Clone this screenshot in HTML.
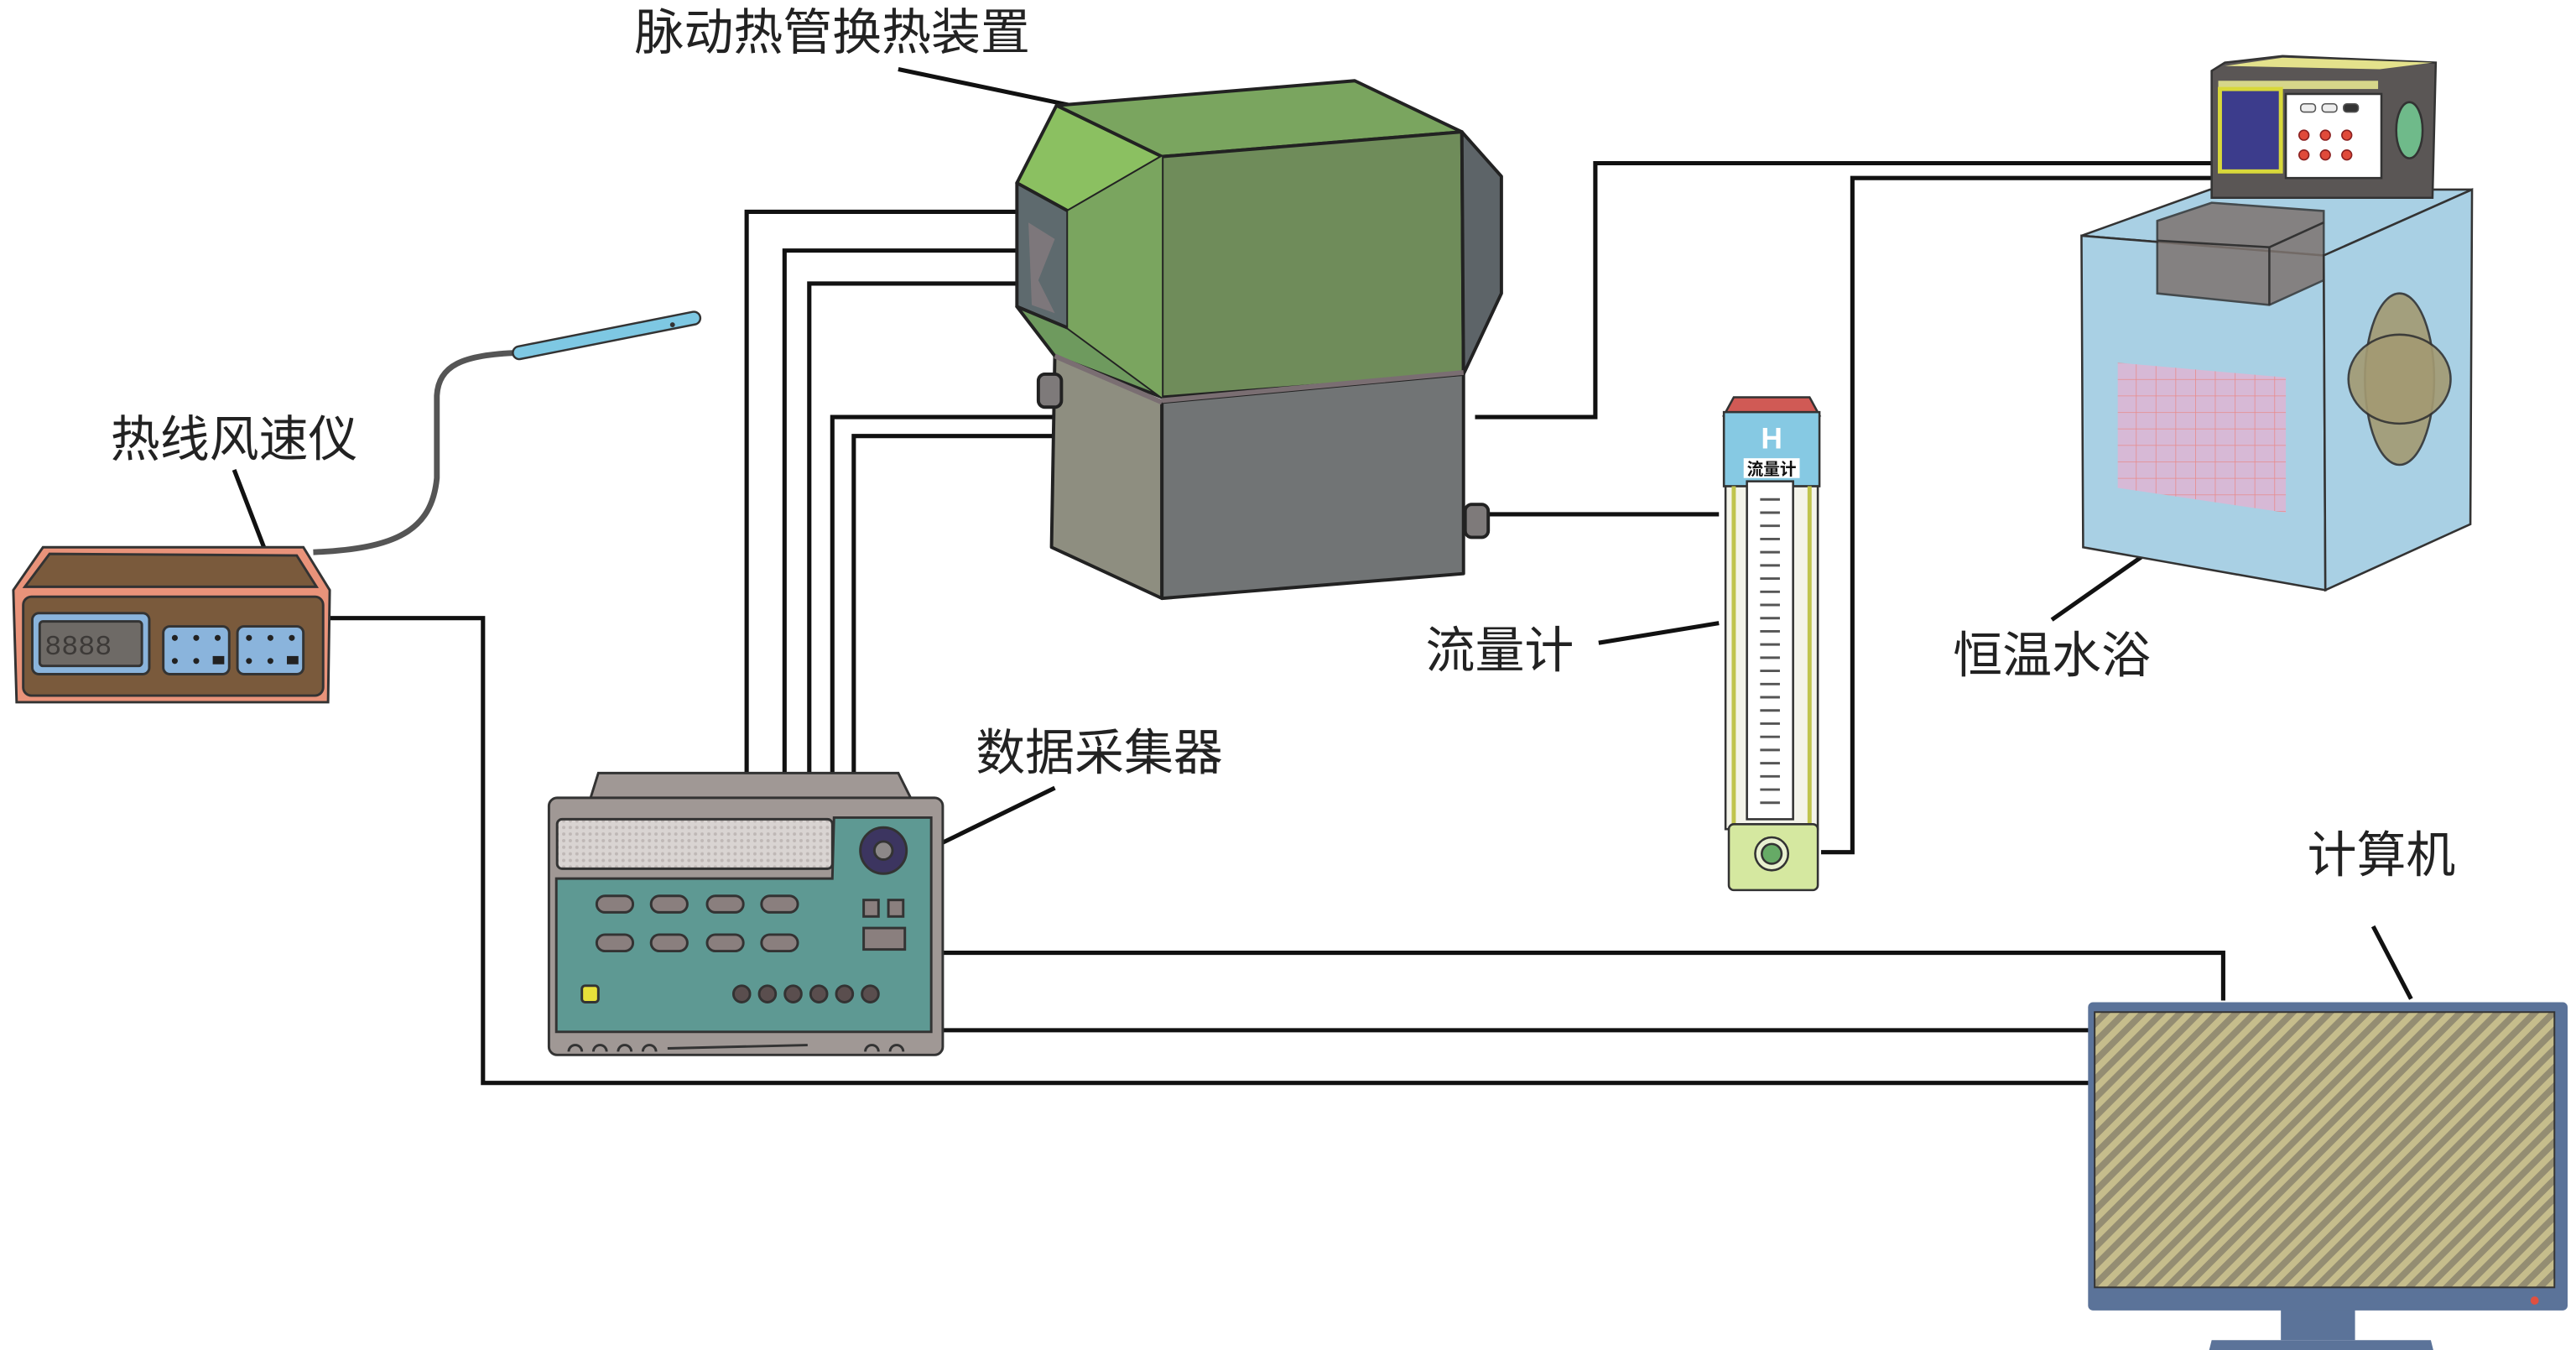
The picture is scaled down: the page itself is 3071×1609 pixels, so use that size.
<!DOCTYPE html>
<html><head><meta charset="utf-8"><style>
html,body{margin:0;padding:0;background:#fff;}
svg{display:block;}
text{font-family:"Liberation Sans","Noto Sans CJK SC",sans-serif;font-size:30px;fill:#222;}
</style></head><body>
<svg width="3071" height="1609" viewBox="0 0 1563 819" xmlns="http://www.w3.org/2000/svg">
<defs>
<pattern id="hatch" width="8" height="8" patternUnits="userSpaceOnUse" patternTransform="rotate(45)">
<rect width="8" height="8" fill="#c6bd8c"/><rect width="4" height="8" fill="#948d72"/>
</pattern>
<pattern id="grid" width="12" height="10" patternUnits="userSpaceOnUse">
<rect width="12" height="10" fill="#d7b9d6"/><path d="M0 0H12M0 0V10" stroke="#e88a8a" stroke-width="0.8"/>
</pattern>
<pattern id="dots" width="4" height="4" patternUnits="userSpaceOnUse">
<rect width="4" height="4" fill="#d9d4d2"/><circle cx="2" cy="2" r="1" fill="#bfb8b6"/>
</pattern>
</defs>

<!-- wires -->
<g fill="none" stroke="#111" stroke-width="2.6">
<polyline points="453,477 453,128.5 648,128.5"/>
<polyline points="476,477 476,152 648,152"/>
<polyline points="491,477 491,172 648,172"/>
<polyline points="505,477 505,253 640,253"/>
<polyline points="518,477 518,264.5 640,264.5"/>
<polyline points="895,253 968,253 968,99 1350,99"/>
<polyline points="1105,517 1124,517 1124,108 1350,108"/>
<polyline points="903,312 1043,312"/>
<polyline points="970,390 1043,378"/>
<polyline points="199,375 293,375 293,657 1272,657"/>
<polyline points="568,578 1349,578 1349,607"/>
<polyline points="568,625 1272,625"/>
<line x1="545" y1="42" x2="650" y2="64"/>
<line x1="142" y1="285" x2="162" y2="337"/>
<line x1="640" y1="478" x2="560" y2="517"/>
<line x1="1245" y1="376" x2="1322" y2="322"/>
<line x1="1440" y1="562" x2="1463" y2="606"/>
</g>

<!-- heat exchanger -->
<g stroke="#222" stroke-width="2" stroke-linejoin="round">
<polygon points="640,216 705,244 705,363 638,332" fill="#8e8e80"/>
<polygon points="705,244 888,227 888,348 705,363" fill="#717475"/>
<polygon points="641,64 822,49 887,80 705,95" fill="#7aa55f"/>
<polygon points="705,95 887,80 888,227 705,241" fill="#6f8c5a"/>
<polygon points="887,80 911,107 911,178 888,227" fill="#5d6468"/>
<polygon points="641,64 705,95 648,128 617,111" fill="#8bc061"/>
<polygon points="617,111 648,128 648,199 617,186" fill="#5e6a6e"/>
<polygon points="617,186 648,199 705,241 640,216" fill="#6e9a5e"/>
<polygon points="648,128 705,95 705,241 648,199" fill="#7aa55f" stroke="none"/>
<line x1="640" y1="216" x2="705" y2="244" stroke="#7a6e72" stroke-width="3"/>
<line x1="705" y1="243" x2="888" y2="226" stroke="#7a6e72" stroke-width="3"/>
<rect x="630" y="227" width="14" height="20" rx="4" fill="#7e7a7a"/>
<rect x="889" y="306" width="14" height="20" rx="4" fill="#7e7a7a"/>
</g>
<path d="M624 135 L640 145 L630 170 L640 190 L626 185 Z" fill="#8a7e80" opacity="0.7"/>

<!-- anemometer -->
<path d="M190,335 C240,333 262,322 265,290 L265,240 C266,222 280,215 315,214" fill="none" stroke="#555" stroke-width="3.5"/>
<path d="M315,214 L421,193" stroke="#333" stroke-width="9" stroke-linecap="round"/>
<path d="M315,214 L421,193" stroke="#7ec8e3" stroke-width="6.5" stroke-linecap="round"/>
<circle cx="408" cy="197" r="1.5" fill="#333"/>
<g stroke="#333" stroke-width="1.5">
<polygon points="26,332 184,332 200,358 199,426 10,426 8,358" fill="#e9937a"/>
<polygon points="30,336 180,337 192,356 15,356" fill="#7a5a3c"/>
<rect x="14" y="362" width="182" height="60" rx="5" fill="#7a5a3c"/>
<rect x="19.5" y="372" width="71" height="37" rx="4" fill="#8ab4dc"/>
<rect x="24" y="377" width="62" height="27" rx="2" fill="#6e6a66"/>
<rect x="99" y="380" width="40" height="29" rx="4" fill="#8ab4dc"/>
<rect x="144" y="380" width="40" height="29" rx="4" fill="#8ab4dc"/>
</g>
<text x="27" y="397" style="font-size:17px;fill:#3d3a38;font-family:'Liberation Mono',monospace">8888</text>
<g fill="#222">
<circle cx="106" cy="387" r="1.8"/><circle cx="119" cy="387" r="1.8"/><circle cx="132" cy="387" r="1.8"/>
<circle cx="106" cy="401" r="1.8"/><circle cx="119" cy="401" r="1.8"/><rect x="129" y="398" width="7" height="5"/>
<circle cx="151" cy="387" r="1.8"/><circle cx="164" cy="387" r="1.8"/><circle cx="177" cy="387" r="1.8"/>
<circle cx="151" cy="401" r="1.8"/><circle cx="164" cy="401" r="1.8"/><rect x="174" y="398" width="7" height="5"/>
</g>

<!-- data logger -->
<g stroke="#333" stroke-width="1.5">
<path d="M358,485 L363,469 L545,469 L553,485 Z" fill="#a09895"/>
<rect x="333" y="484" width="239" height="156" rx="5" fill="#a09895"/>
<rect x="338" y="497" width="167" height="30" rx="3" fill="url(#dots)"/>
<path d="M337.5,533 L505,533 L506,496 L565,496 L565,626 L337.5,626 Z" fill="#5e9993"/>
<circle cx="536" cy="516" r="14" fill="#3c3560"/>
<circle cx="536" cy="516" r="5.5" fill="#8c8888"/>
<g fill="#8a7f7e">
<rect x="362" y="543.5" width="22" height="10" rx="5"/><rect x="395" y="543.5" width="22" height="10" rx="5"/><rect x="429" y="543.5" width="22" height="10" rx="5"/><rect x="462" y="543.5" width="22" height="10" rx="5"/>
<rect x="362" y="567" width="22" height="10" rx="5"/><rect x="395" y="567" width="22" height="10" rx="5"/><rect x="429" y="567" width="22" height="10" rx="5"/><rect x="462" y="567" width="22" height="10" rx="5"/>
<rect x="524" y="546" width="9" height="10"/><rect x="539" y="546" width="9" height="10"/>
<rect x="524" y="563" width="25" height="13"/>
</g>
<rect x="353" y="598" width="10" height="10" rx="2" fill="#e8e03a"/>
<g fill="#5a4e4e">
<circle cx="450" cy="603" r="5"/><circle cx="465.6" cy="603" r="5"/><circle cx="481.2" cy="603" r="5"/><circle cx="496.8" cy="603" r="5"/><circle cx="512.4" cy="603" r="5"/><circle cx="528" cy="603" r="5"/>
</g>
<path d="M345,638 a4,4 0 0 1 8,0 M360,638 a4,4 0 0 1 8,0 M375,638 a4,4 0 0 1 8,0 M390,638 a4,4 0 0 1 8,0 M525,638 a4,4 0 0 1 8,0 M540,638 a4,4 0 0 1 8,0 M405,636 L490,634" fill="none"/>
</g>

<!-- flowmeter -->
<g stroke="#333" stroke-width="1.3">
<path d="M1046,252 L1052,241 L1098,241 L1104,252 Z" fill="#d05a55"/>
<rect x="1046" y="250" width="58" height="45" fill="#86c9e3"/>
<rect x="1047" y="295" width="56" height="208" fill="#f4f4ea"/>
<rect x="1060" y="292" width="28" height="205" fill="#fff"/>
<line x1="1052" y1="295" x2="1052" y2="500" stroke="#c0c44e" stroke-width="2.5"/>
<line x1="1098" y1="295" x2="1098" y2="500" stroke="#c0c44e" stroke-width="2.5"/>
<rect x="1049" y="500" width="54" height="40" rx="3" fill="#d5e8a0"/>
<circle cx="1075" cy="518" r="10" fill="#e8f0d0"/>
<circle cx="1075" cy="518" r="6" fill="#66aa66"/>
</g>
<rect x="1058" y="278" width="34" height="12" fill="#fff"/>
<text x="1075" y="288" text-anchor="middle" style="font-size:10px;font-weight:bold;fill:#111">流量计</text>
<text x="1075" y="272" text-anchor="middle" style="font-size:18px;font-weight:bold;fill:#fff">H</text>
<path d="M1068,303 h12 M1068,311 h12 M1068,319 h12 M1068,327 h12 M1068,335 h12 M1068,343 h12 M1068,351 h12 M1068,359 h12 M1068,367 h12 M1068,375 h12 M1068,383 h12 M1068,391 h12 M1068,399 h12 M1068,407 h12 M1068,415 h12 M1068,423 h12 M1068,431 h12 M1068,439 h12 M1068,447 h12 M1068,455 h12 M1068,463 h12 M1068,471 h12 M1068,479 h12 M1068,487 h12" stroke="#555" stroke-width="1.5"/>

<!-- water bath -->
<g stroke="#333" stroke-width="1.3">
<polygon points="1263,143 1341,115 1500,115 1410,155" fill="#a9d0e4"/>
<polygon points="1263,143 1410,155 1411,358 1264,332" fill="#a9d0e4"/>
<polygon points="1410,155 1500,115 1499,318 1411,358" fill="#a9d0e4"/>
<polygon points="1309,134 1342,123 1410,128 1410,170 1377,185 1309,178" fill="#7e7470" opacity="0.85"/>
<polyline points="1309,146 1377,150 1410,135 M1377,150" fill="none"/>
<line x1="1377" y1="150" x2="1377" y2="185"/>
<polygon points="1285,220 1387,229 1387,311 1285,296" fill="url(#grid)" stroke="none"/>
<ellipse cx="1456" cy="230" rx="21" ry="52" fill="#a39a72" opacity="0.9"/>
<ellipse cx="1456" cy="230" rx="31" ry="27" fill="#a39a72" opacity="0.9"/>
<polygon points="1342,43 1350,38 1385,34 1478,38 1476,120 1342,120" fill="#5a5655"/>
<polygon points="1350,40 1385,35 1476,38 1444,42" fill="#e4e28c" stroke="none"/>
<rect x="1346" y="49" width="97" height="5" fill="#d6d68a" stroke="none"/>
<rect x="1347" y="54" width="37" height="50" fill="#3c3c8c" stroke="#d8d83a" stroke-width="2.5"/>
<rect x="1387" y="57" width="58" height="51" fill="#fff"/>
<ellipse cx="1462" cy="79" rx="8" ry="17" fill="#6fba8a"/>
</g>
<g fill="#e04a3a" stroke="#8a2020" stroke-width="0.8">
<circle cx="1398" cy="82" r="3"/><circle cx="1411" cy="82" r="3"/><circle cx="1424" cy="82" r="3"/>
<circle cx="1398" cy="94" r="3"/><circle cx="1411" cy="94" r="3"/><circle cx="1424" cy="94" r="3"/>
</g>
<g stroke="#555" stroke-width="0.8" fill="#eee">
<rect x="1396" y="63" width="9" height="5" rx="2"/><rect x="1409" y="63" width="9" height="5" rx="2"/><rect x="1422" y="63" width="9" height="5" rx="2" fill="#333"/>
</g>

<!-- computer -->
<g stroke="#333" stroke-width="1">
<rect x="1384" y="794" width="45" height="19" fill="#5b7399" stroke="none"/>
<path d="M1340,821 L1342,813 L1475,813 L1477,821 Z" fill="#5b7399" stroke="none"/>
<rect x="1267" y="608" width="291" height="187" rx="3" fill="#5b7399" stroke="none"/>
<rect x="1271" y="614" width="279" height="167" fill="url(#hatch)"/>
<circle cx="1538" cy="789" r="2.5" fill="#e05040" stroke="none"/>
</g>

<!-- labels -->
<text x="385" y="30">脉动热管换热装置</text>
<text x="67" y="277">热线风速仪</text>
<text x="592" y="467">数据采集器</text>
<text x="865" y="405">流量计</text>
<text x="1185" y="408">恒温水浴</text>
<text x="1400" y="529">计算机</text>
</svg>
</body></html>
